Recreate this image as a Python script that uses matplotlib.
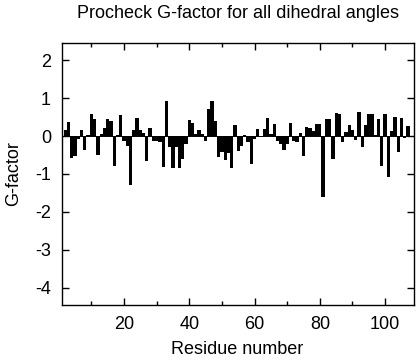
import numpy as np
import matplotlib
matplotlib.use("Agg")
import matplotlib.pyplot as plt

plt.rcParams['font.family'] = ['Liberation Sans', 'DejaVu Sans']
plt.rcParams['axes.unicode_minus'] = False

# G-factor per residue
residues = list(range(1, 108))
gfactor = [
    0.00, 0.15, 0.38, -0.58, -0.53, -0.07, 0.17, -0.36, 0.02, 0.57,
    0.46, -0.50, 0.06, 0.22, 0.44, 0.39, -0.78, 0.02, 0.55, -0.12,
    -0.25, -1.30, 0.15, 0.47, 0.17, 0.08, -0.66, 0.20, -0.12, -0.13,
    -0.16, -0.82, 0.92, -0.28, -0.84, -0.30, -0.84, -0.60, -0.20, 0.41,
    0.35, 0.06, 0.17, 0.05, -0.13, 0.70, 0.92, 0.39, -0.55, -0.42,
    -0.64, -0.45, -0.84, 0.28, -0.40, -0.25, 0.04, -0.15, -0.74, -0.08,
    0.18, 0.00, 0.18, 0.47, 0.05, 0.32, -0.12, -0.20, -0.38, -0.20,
    0.35, -0.12, -0.15, 0.09, -0.52, 0.25, 0.20, 0.13, 0.32, 0.32,
    -1.60, 0.46, 0.44, -0.60, 0.60, 0.59, -0.16, 0.10, 0.30, 0.17,
    -0.10, 0.62, -0.28, 0.30, 0.58, 0.58, 0.02, 0.45, -0.80, 0.57,
    -1.08, 0.13, 0.49, -0.43, 0.47, -0.05, 0.27,
]
xticks = [20, 40, 60, 80, 100]
yticks = [-4, -3, -2, -1, 0, 1, 2]

fig = plt.figure(figsize=(4.16, 3.6), dpi=100)
ax = fig.add_axes([62 / 416, 1 - 305 / 360, (413.5 - 62) / 416, (305 - 43) / 360])

ax.bar(residues, gfactor, width=1.0, color='black', linewidth=0)
ax.axhline(0, color='black', linewidth=0.7)

ax.set_xlim(1, 108.7)
ax.set_ylim(-4.45, 2.45)
ax.set_xticks(xticks)
ax.set_xticks(range(10, 110, 20), minor=True)
ax.set_yticks(yticks)

ax.tick_params(axis='both', which='both', direction='in', top=True, right=True,
               labelsize=13, width=1.0)
ax.tick_params(axis='both', which='major', length=5, pad=8)
ax.tick_params(axis='x', which='minor', length=3)
for s in ax.spines.values():
    s.set_linewidth(1.0)

fig.text(0.571, 1 - 14 / 360, 'Procheck G-factor for all dihedral angles',
         ha='center', va='center', fontsize=13)
fig.text(0.571, 1 - 349 / 360, 'Residue number', ha='center', va='center', fontsize=13)
fig.text(14 / 416, 1 - 174 / 360, 'G-factor', ha='center', va='center',
         rotation=90, fontsize=13)

fig.savefig('out.png', dpi=100)
